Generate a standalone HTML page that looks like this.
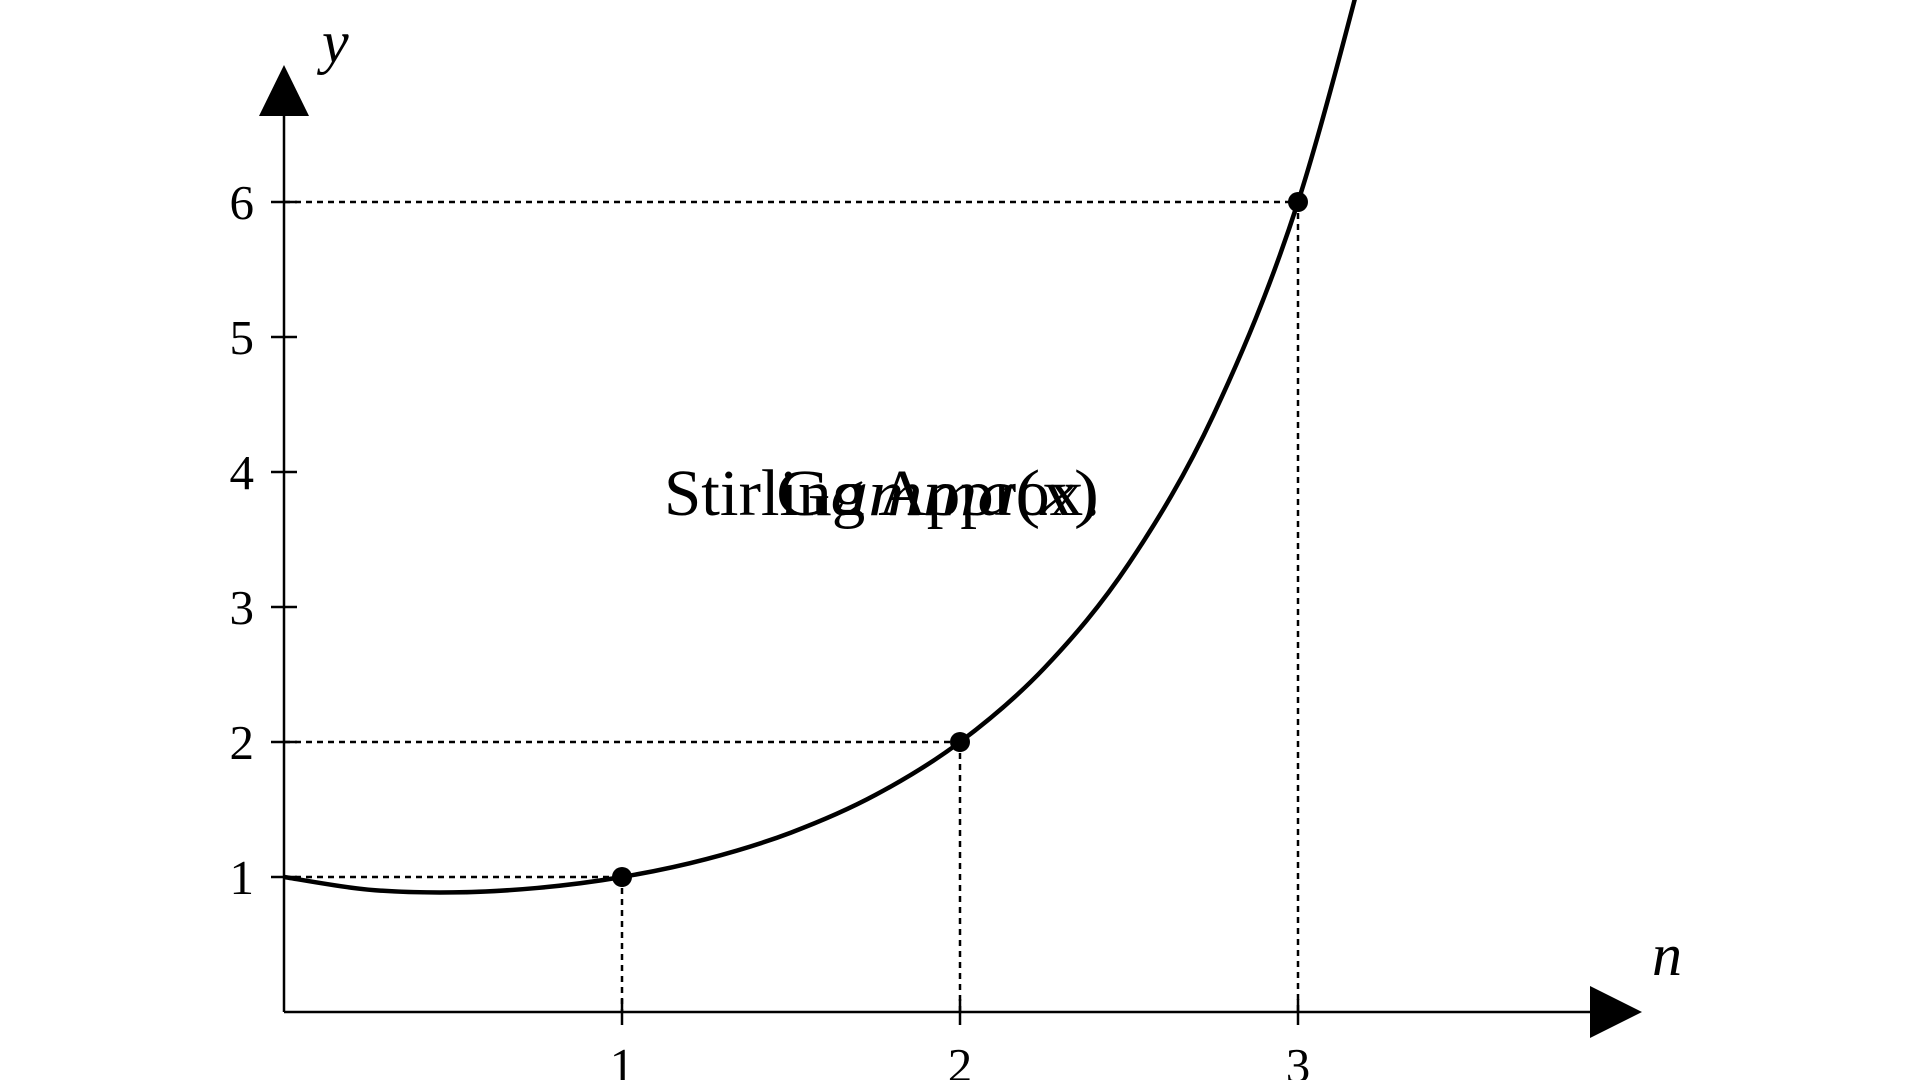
<!DOCTYPE html>
<html><head><meta charset="utf-8"><style>
html,body{margin:0;padding:0;background:#fff;width:1920px;height:1080px;overflow:hidden}
svg{display:block}
text{font-family:"Liberation Serif",serif;fill:#000}
</style></head><body>
<svg id="chart" width="1920" height="1080" viewBox="0 0 1920 1080" xmlns="http://www.w3.org/2000/svg">
<defs><clipPath id="clip"><rect x="0" y="0" width="1920" height="1080"/></clipPath></defs>
<g id="axes"></g>
<g id="guides"></g>
<g id="curve" clip-path="url(#clip)"></g>
<g id="pts"></g>
<text x="664" y="515" font-size="66" textLength="436" lengthAdjust="spacingAndGlyphs">Stirling Approx.</text>
<text x="776" y="515" font-size="66" textLength="323" lengthAdjust="spacingAndGlyphs">G<tspan font-style="italic">amma</tspan>(<tspan font-style="italic">x</tspan>)</text>
</svg>
<script>
const curveX = [0, 0.25, 0.5, 0.75, 1, 1.25, 1.5, 1.75, 2, 2.25, 2.5, 2.75, 3, 3.25];
const curveY = [1, 0.906, 0.886, 0.919, 1, 1.133, 1.329, 1.608, 2, 2.549, 3.323, 4.423, 6, 8.285];
const pointX = [1, 2, 3];
const pointY = [1, 2, 6];
const xTicks = [1, 2, 3];
const yTicks = [1, 2, 3, 4, 5, 6];
const xTickLabels = ["1", "2", "3"];
const yTickLabels = ["1", "2", "3", "4", "5", "6"];

const X0 = 284, Y0 = 1012, UX = 338, UY = 135;
const sx = v => X0 + v * UX;
const sy = v => Y0 - v * UY;
const NS = "http://www.w3.org/2000/svg";
function mk(tag, attrs, parent) {
  const e = document.createElementNS(NS, tag);
  for (const k in attrs) e.setAttribute(k, attrs[k]);
  parent.appendChild(e);
  return e;
}
const axes = document.getElementById('axes');
const guides = document.getElementById('guides');
const curveG = document.getElementById('curve');
const pts = document.getElementById('pts');

let l = mk('line', {x1: X0, y1: Y0, x2: 1600, y2: Y0, stroke: '#000', 'stroke-width': 2.5}, axes);


l = mk('line', {x1: X0, y1: Y0, x2: X0, y2: 110, stroke: '#000', 'stroke-width': 2.5}, axes);


let a = mk('polygon', {points: '1590,986 1642,1012 1590,1038', fill: '#000'}, axes);


a = mk('polygon', {points: '259,116 284,65 309,116', fill: '#000'}, axes);


let t = mk('text', {x: 1652, y: 975, 'font-size': 60, 'font-style': 'italic'}, axes);
t.textContent = 'n';


t = mk('text', {x: 322, y: 62, 'font-size': 60, 'font-style': 'italic'}, axes);
t.textContent = 'y';



xTicks.forEach((v, i) => {
  const tk = mk('line', {x1: sx(v), y1: Y0 - 13, x2: sx(v), y2: Y0 + 13, stroke: '#000', 'stroke-width': 2.5}, axes);
  
  
  const lb = mk('text', {x: sx(v), y: 1082, 'font-size': 49, 'text-anchor': 'middle'}, axes);
  lb.textContent = xTickLabels[i];
  
  
});
yTicks.forEach((v, i) => {
  const tk = mk('line', {x1: X0 - 13, y1: sy(v), x2: X0 + 13, y2: sy(v), stroke: '#000', 'stroke-width': 2.5}, axes);
  
  
  const lb = mk('text', {x: 254, y: sy(v) + 17, 'font-size': 49, 'text-anchor': 'end'}, axes);
  lb.textContent = yTickLabels[i];
  
  
});

pointX.forEach((v, i) => {
  const h = mk('line', {x1: X0, y1: sy(pointY[i]), x2: sx(v), y2: sy(pointY[i]), stroke: '#000', 'stroke-width': 2.5, 'stroke-dasharray': '6 5'}, guides);
  
  
  const vv = mk('line', {x1: sx(v), y1: sy(pointY[i]), x2: sx(v), y2: Y0, stroke: '#000', 'stroke-width': 2.5, 'stroke-dasharray': '6 5'}, guides);
  
  
});

const P = curveX.map((v, i) => [sx(v), sy(curveY[i])]);
let d = 'M' + P[0][0] + ',' + P[0][1];
for (let i = 0; i < P.length - 1; i++) {
  const p0 = P[i - 1] || P[i], p1 = P[i], p2 = P[i + 1], p3 = P[i + 2] || P[i + 1];
  const c1 = [p1[0] + (p2[0] - p0[0]) / 6, p1[1] + (p2[1] - p0[1]) / 6];
  const c2 = [p2[0] - (p3[0] - p1[0]) / 6, p2[1] - (p3[1] - p1[1]) / 6];
  d += ' C' + c1 + ' ' + c2 + ' ' + p2;
}
const path = mk('path', {d: d, fill: 'none', stroke: '#000', 'stroke-width': 4.5}, curveG);



pointX.forEach((v, i) => {
  const c = mk('circle', {cx: sx(v), cy: sy(pointY[i]), r: 10, fill: '#000'}, pts);
  
  
});
</script>
</body></html>
